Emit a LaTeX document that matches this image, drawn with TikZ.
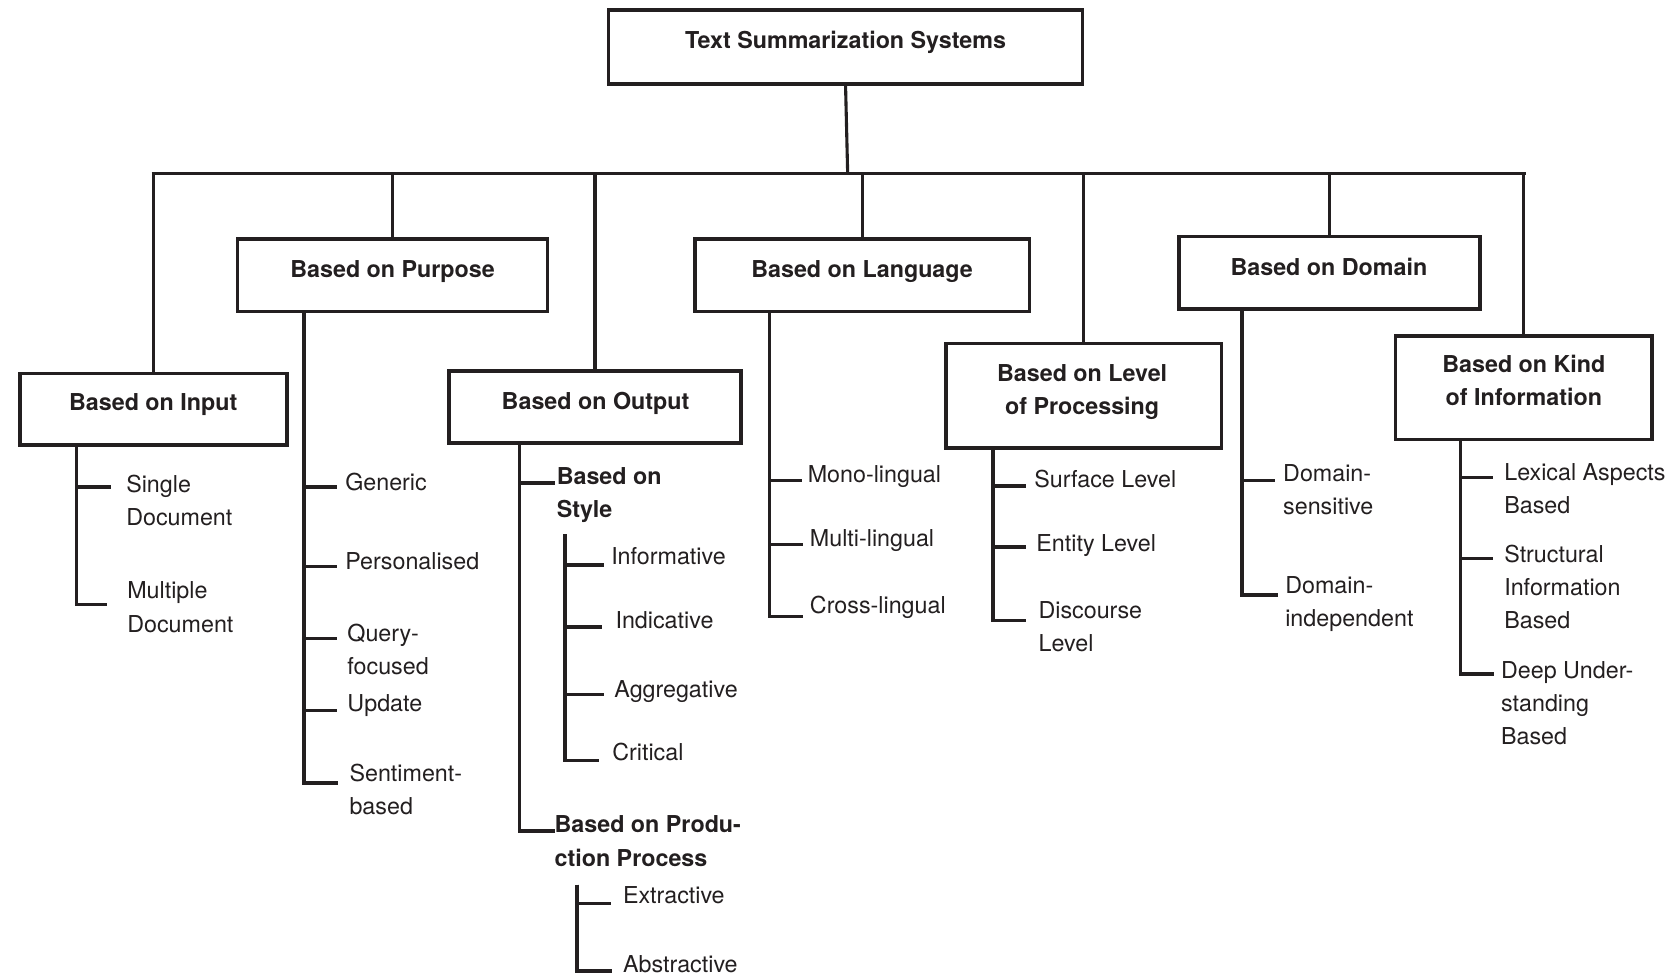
\documentclass[tikz,border=0pt]{standalone}
\usepackage{fontspec}
\setmainfont{TeX Gyre Heros}
\definecolor{ink}{HTML}{231F20}
% stacked lines whose baseline is the first line's baseline
\newcommand{\llines}[1]{\begin{tabular}[t]{@{}l@{}}#1\end{tabular}}
\newcommand{\clines}[1]{\begin{tabular}[t]{@{}c@{}}#1\end{tabular}}
\tikzset{
  box/.style={draw=ink, line width=3.3pt, inner sep=0pt, outer sep=0pt},
  head/.style={font=\bfseries\fontsize{21.8}{31}\selectfont, text=ink, inner sep=0pt, anchor=base},
  leaf/.style={font=\fontsize{21.8}{31}\selectfont, text=ink, inner sep=0pt, anchor=base west},
  subhead/.style={leaf, font=\bfseries\fontsize{21.8}{31}\selectfont},
  link/.style={draw=ink, line width=2.9pt},
  bracket/.style={draw=ink, line width=3.1pt},
}
\begin{document}
\begin{tikzpicture}[x=1pt, y=-1pt]
\useasboundingbox (0,0) rectangle (1568,916);

% ---- root and category boxes ----
\node[box, minimum width=444, minimum height=69] (root) at (791.5,44) {};
\node[head] (root-t) at (791.5,45.7) {Text Summarization Systems};

\node[box, minimum width=250, minimum height=67] (inp) at (143.5,383) {};
\node[head] (inp-t) at (143.5,384.7) {Based on Input};

\node[box, minimum width=290, minimum height=68] (pur) at (367.5,257.5) {};
\node[head] (pur-t) at (367.5,259.7) {Based on Purpose};

\node[box, minimum width=273, minimum height=67] (out) at (557,381) {};
\node[head] (out-t) at (557.5,383.7) {Based on Output};

\node[box, minimum width=313, minimum height=68] (lan) at (807,257.5) {};
\node[head] (lan-t) at (807,259.7) {Based on Language};

\node[box, minimum width=258, minimum height=98] (lev) at (1014.5,370.5) {};
\node[head] (lev-t) at (1013,356.7) {\clines{Based on Level\\of Processing}};

\node[box, minimum width=282, minimum height=68] (dom) at (1244.5,255.5) {};
\node[head] (dom-t) at (1244,257.7) {Based on Domain};

\node[box, minimum width=240, minimum height=97] (kin) at (1426.5,363) {};
\node[head] (kin-t) at (1426.5,348.7) {\clines{Based on Kind\\of Information}};

% ---- trunk, bus and stems ----
\coordinate (busL) at (142,162);
\coordinate (busR) at (1428.5,162);
\draw[link] (busL) -- (busR);
\draw[link] (root.south) -- ([xshift=2pt]root.south |- busL);
\foreach \b in {inp,pur,out,lan,lev,dom,kin}
  \draw[link] (\b.north) -- (\b.north |- busL);

% ---- Based on Input ----
\path (inp.south west) ++(53,0) coordinate (inp-v);
\coordinate (inp-1) at (104,456);
\coordinate (inp-2) at (100,566);
\draw[bracket] (inp-v) |- (inp-1);
\draw[bracket] (inp-v) |- (inp-2);
\node[leaf] (single) at (118,460.7) {\llines{Single\\Document}};
\node[leaf] (multiple) at (119,560.7) {\llines{Multiple\\Document}};

% ---- Based on Purpose ----
\path (pur.south west) ++(62,0) coordinate (pur-v);
\coordinate (pur-1) at (315,456);
\coordinate (pur-2) at (315,530);
\coordinate (pur-3) at (315,598);
\coordinate (pur-4) at (315,665);
\coordinate (pur-5) at (316,733);
\foreach \k in {1,...,5} \draw[bracket] (pur-v) |- (pur-\k);
\node[leaf] (generic) at (323,458.7) {Generic};
\node[leaf] (personal) at (323,532.7) {Personalised};
\node[leaf] (query) at (325,600.7) {\llines{Query-\\focused}};
\node[leaf] (update) at (325,665.7) {Update};
\node[leaf] (sentiment) at (327,731.7) {\llines{Sentiment-\\based}};

% ---- Based on Output ----
\path (out.south west) ++(66,0) coordinate (out-v);
\coordinate (out-1) at (520,452);
\coordinate (out-2) at (520,778);
\draw[bracket] (out-v) |- (out-1);
\draw[bracket] (out-v) |- (out-2);
\node[subhead] (style) at (521,453.7) {\llines{Based on\\Style}};
\node[subhead] (production) at (519,779.7) {\llines{Based on Produ-\\ction Process}};

\coordinate (sty-v) at (529,500);
\coordinate (sty-1) at (565,529);
\coordinate (sty-2) at (564,587);
\coordinate (sty-3) at (565,650);
\coordinate (sty-4) at (561,712);
\foreach \k in {1,...,4} \draw[bracket] (sty-v) |- (sty-\k);
\node[leaf] (informative) at (572,528.7) {Informative};
\node[leaf] (indicative) at (576,588.7) {Indicative};
\node[leaf] (aggregative) at (575,652.7) {Aggregative};
\node[leaf] (critical) at (573,711.7) {Critical};

\coordinate (pro-v) at (540,828);
\coordinate (pro-1) at (572,846);
\coordinate (pro-2) at (573,909);
\draw[bracket] (pro-v) |- (pro-1);
\draw[bracket] (pro-v) |- (pro-2);
\node[leaf] (extractive) at (583,845.7) {Extractive};
\node[leaf] (abstractive) at (583,910.7) {Abstractive};

% ---- Based on Language ----
\path (lan.south west) ++(70,0) coordinate (lan-v);
\coordinate (lan-1) at (751,450);
\coordinate (lan-2) at (752,510);
\coordinate (lan-3) at (752,577);
\foreach \k in {1,2,3} \draw[bracket] (lan-v) |- (lan-\k);
\node[leaf] (mono) at (756,451.7) {Mono-lingual};
\node[leaf] (multi) at (758,511.7) {Multi-lingual};
\node[leaf] (cross) at (758,574.7) {Cross-lingual};

% ---- Based on Level of Processing ----
\path (lev.south west) ++(44,0) coordinate (lev-v);
\coordinate (lev-1) at (960,455);
\coordinate (lev-2) at (960,512);
\coordinate (lev-3) at (960,581);
\foreach \k in {1,2,3} \draw[bracket] (lev-v) |- (lev-\k);
\node[leaf] (surface) at (968,456.7) {Surface Level};
\node[leaf] (entity) at (970,516.7) {Entity Level};
\node[leaf] (discourse) at (972,578.7) {\llines{Discourse\\Level}};

% ---- Based on Domain ----
\path (dom.south west) ++(59,0) coordinate (dom-v);
\coordinate (dom-1) at (1194,450);
\coordinate (dom-2) at (1196,557);
\draw[bracket] (dom-v) |- (dom-1);
\draw[bracket] (dom-v) |- (dom-2);
\node[leaf] (dsens) at (1201,450.7) {\llines{Domain-\\sensitive}};
\node[leaf] (dindep) at (1203,555.7) {\llines{Domain-\\independent}};

% ---- Based on Kind of Information ----
\path (kin.south west) ++(61,0) coordinate (kin-v);
\coordinate (kin-1) at (1398,447);
\coordinate (kin-2) at (1398,523);
\coordinate (kin-3) at (1399,631);
\foreach \k in {1,2,3} \draw[bracket] (kin-v) |- (kin-\k);
\node[leaf] (lexical) at (1408,449.7) {\llines{Lexical Aspects\\Based}};
\node[leaf] (structural) at (1408,526.7) {\llines{Structural\\Information\\Based}};
\node[leaf] (deep) at (1405,634.7) {\llines{Deep Under-\\standing\\Based}};
\end{tikzpicture}
\end{document}
